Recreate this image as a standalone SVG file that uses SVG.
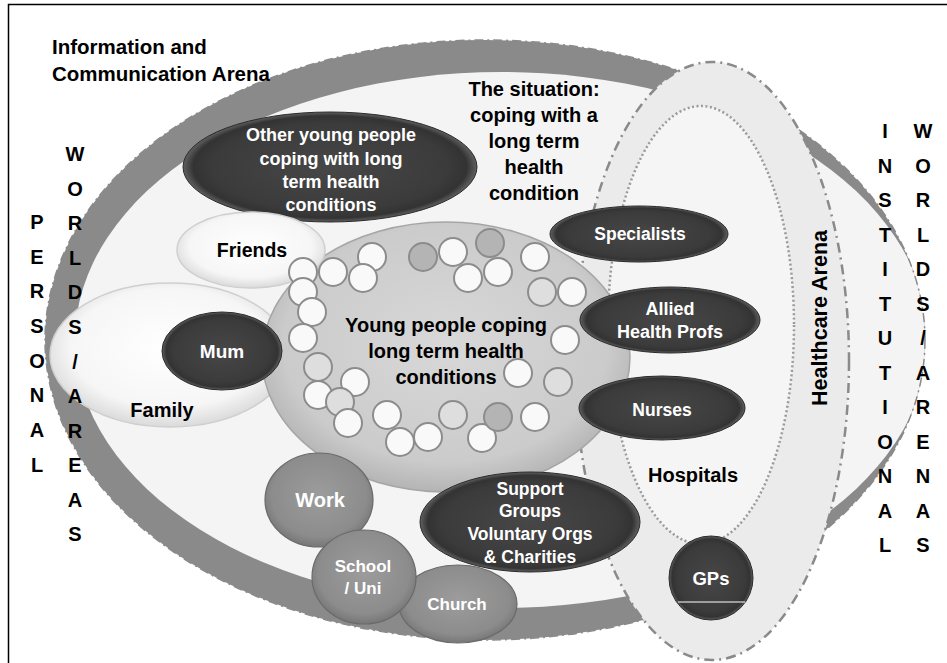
<svg xmlns="http://www.w3.org/2000/svg" width="947" height="663" viewBox="0 0 947 663">
<defs>
<style>
.t{font-family:"Liberation Sans",Arial,sans-serif;font-weight:bold;fill:#000;text-anchor:middle}
.w{font-family:"Liberation Sans",Arial,sans-serif;font-weight:bold;fill:#fff;text-anchor:middle}
.dark{fill:url(#gDark);stroke:#2a2a2a;stroke-width:1}
.mid{fill:url(#gMid);stroke:#6a6a6a;stroke-width:1.2}
.lite{fill:url(#gLite);stroke:#cfcfcf;stroke-width:1.5}
.c{fill:#f9f9f9;stroke:#8c8c8c;stroke-width:2}
.cg{fill:#b4b4b4;stroke:#8c8c8c;stroke-width:2}
.cl{fill:#dedede;stroke:#8c8c8c;stroke-width:2}
</style>
<radialGradient id="gDark" cx="50%" cy="50%" r="50%">
<stop offset="0" stop-color="#474747"/>
<stop offset="0.8" stop-color="#3b3b3b"/>
<stop offset="0.93" stop-color="#333"/>
<stop offset="1" stop-color="#606060"/>
</radialGradient>
<radialGradient id="gMid" cx="50%" cy="45%" r="55%">
<stop offset="0" stop-color="#9c9c9c"/>
<stop offset="0.8" stop-color="#8c8c8c"/>
<stop offset="1" stop-color="#777"/>
</radialGradient>
<radialGradient id="gLite" cx="50%" cy="45%" r="55%">
<stop offset="0" stop-color="#fff"/>
<stop offset="0.75" stop-color="#f6f6f6"/>
<stop offset="1" stop-color="#dadada"/>
</radialGradient>
<radialGradient id="gCenter" cx="50%" cy="45%" r="55%">
<stop offset="0" stop-color="#d8d8d8"/>
<stop offset="0.8" stop-color="#cbcbcb"/>
<stop offset="1" stop-color="#b4b4b4"/>
</radialGradient>
<clipPath id="outerClip"><ellipse cx="485" cy="340" rx="440" ry="300"/></clipPath>
</defs>

<rect x="8.5" y="4.5" width="945" height="670" fill="#fff" stroke="#000" stroke-width="1.5"/>

<g id="information-arena">
<ellipse cx="485" cy="340" rx="440" ry="300" fill="#8a8a8a"/>
<ellipse cx="501.5" cy="340" rx="426.5" ry="268" fill="#f4f4f4" clip-path="url(#outerClip)"/>
<ellipse cx="485" cy="340" rx="440" ry="300" fill="none" stroke="#8a8a8a" stroke-width="1.5" stroke-dasharray="9 4 2 4"/>
<text class="t" style="text-anchor:start" font-size="20.5" x="52" y="54">Information and</text>
<text class="t" style="text-anchor:start" font-size="20.5" x="52" y="81">Communication Arena</text>
</g>

<g id="healthcare-arena">
<ellipse cx="712" cy="361" rx="137" ry="299" fill="#ebebeb" stroke="#8a8a8a" stroke-width="2.5" stroke-dasharray="10 5 2 5"/>
</g>

<g id="hospitals">
<ellipse cx="701" cy="325" rx="93" ry="219" fill="#f5f5f5" stroke="#9a9a9a" stroke-width="2.5" stroke-dasharray="2 2.5"/>
<text class="t" font-size="20" x="693" y="482">Hospitals</text>
</g>

<g id="situation-label">
<text class="t" font-size="20" x="534" y="96">The situation:</text>
<text class="t" font-size="20" x="534" y="122">coping with a</text>
<text class="t" font-size="20" x="534" y="148">long term</text>
<text class="t" font-size="20" x="534" y="174">health</text>
<text class="t" font-size="20" x="534" y="200">condition</text>
</g>

<g id="family">
<ellipse class="lite" cx="170" cy="355" rx="120" ry="72"/>
<text class="t" font-size="20" x="162" y="417">Family</text>
</g>

<g id="other-young-people">
<ellipse class="dark" cx="330" cy="167" rx="147" ry="55"/>
<text class="w" font-size="18" x="331" y="141">Other young people</text>
<text class="w" font-size="18" x="331" y="165">coping with long</text>
<text class="w" font-size="18" x="331" y="188">term health</text>
<text class="w" font-size="18" x="331" y="211">conditions</text>
</g>

<g id="young-people">
<ellipse cx="446" cy="357" rx="184" ry="135" fill="url(#gCenter)" stroke="#a5a5a5" stroke-width="1.5"/>
<text class="t" font-size="20" x="446" y="332">Young people coping</text>
<text class="t" font-size="20" x="446" y="358">long term health</text>
<text class="t" font-size="20" x="446" y="384">conditions</text>
</g>

<g id="friends">
<ellipse class="lite" cx="251" cy="250" rx="74" ry="38"/>
<text class="t" font-size="19.5" x="252" y="257">Friends</text>
</g>

<g id="people-circles">
<circle class="c" cx="303" cy="272" r="14"/>
<circle class="c" cx="333" cy="272" r="14"/>
<circle class="c" cx="372" cy="257" r="14"/>
<circle class="c" cx="363" cy="278" r="14"/>
<circle class="cg" cx="423" cy="257" r="14"/>
<circle class="c" cx="453" cy="252" r="14"/>
<circle class="cg" cx="490" cy="243" r="14"/>
<circle class="c" cx="468" cy="278" r="14"/>
<circle class="c" cx="498" cy="272" r="14"/>
<circle class="c" cx="535" cy="257" r="14"/>
<circle class="cl" cx="542" cy="292" r="14"/>
<circle class="c" cx="572" cy="292" r="14"/>
<circle class="c" cx="303" cy="292" r="14"/>
<circle class="c" cx="312" cy="312" r="14"/>
<circle class="c" cx="303" cy="338" r="14"/>
<circle class="cl" cx="318" cy="367" r="14"/>
<circle class="c" cx="355" cy="382" r="14"/>
<circle class="c" cx="318" cy="395" r="14"/>
<circle class="cl" cx="340" cy="402" r="14"/>
<circle class="c" cx="348" cy="423" r="14"/>
<circle class="c" cx="387" cy="415" r="14"/>
<circle class="c" cx="400" cy="442" r="14"/>
<circle class="c" cx="428" cy="437" r="14"/>
<circle class="cl" cx="453" cy="415" r="14"/>
<circle class="c" cx="482" cy="438" r="14"/>
<circle class="cg" cx="498" cy="417" r="14"/>
<circle class="c" cx="535" cy="417" r="14"/>
<circle class="c" cx="518" cy="373" r="14"/>
<circle class="cl" cx="558" cy="382" r="14"/>
<circle class="c" cx="565" cy="340" r="14"/>
</g>

<g id="mum">
<ellipse class="dark" cx="222" cy="351" rx="60" ry="39"/>
<text class="w" font-size="19" x="222" y="358">Mum</text>
</g>

<g id="specialists">
<ellipse class="dark" cx="639" cy="234" rx="89" ry="28"/>
<text class="w" font-size="17.5" x="640" y="240">Specialists</text>
</g>

<g id="allied-health-profs">
<ellipse class="dark" cx="670" cy="320" rx="90" ry="33"/>
<text class="w" font-size="18" x="670" y="315">Allied</text>
<text class="w" font-size="18" x="670" y="338">Health Profs</text>
</g>

<g id="nurses">
<ellipse class="dark" cx="662" cy="408" rx="83" ry="32"/>
<text class="w" font-size="17.5" x="662" y="416">Nurses</text>
</g>

<g id="work">
<ellipse class="mid" cx="319" cy="500" rx="54" ry="47"/>
<text class="w" font-size="20" x="320" y="507">Work</text>
</g>

<g id="church">
<ellipse class="mid" cx="458" cy="604" rx="59" ry="39"/>
<text class="w" font-size="17" x="457" y="610">Church</text>
</g>

<g id="school-uni">
<ellipse class="mid" cx="364" cy="577" rx="52" ry="47"/>
<text class="w" font-size="17" x="363" y="572">School</text>
<text class="w" font-size="17" x="363" y="594">/ Uni</text>
</g>

<g id="support-groups">
<ellipse class="dark" cx="530" cy="522" rx="110" ry="50"/>
<text class="w" font-size="17.5" x="530" y="495">Support</text>
<text class="w" font-size="17.5" x="530" y="517">Groups</text>
<text class="w" font-size="17.5" x="530" y="540">Voluntary Orgs</text>
<text class="w" font-size="17.5" x="530" y="563">&amp; Charities</text>
</g>

<g id="gps">
<circle class="dark" cx="711" cy="578" r="42"/>
<line x1="678" y1="602" x2="745" y2="602" stroke="#fff" stroke-width="1.2"/>
<text class="w" font-size="18.5" x="711" y="585">GPs</text>
</g>

<g id="healthcare-label">
<text class="t" font-size="21.5" transform="translate(827 318) rotate(-90)" x="0" y="0">Healthcare Arena</text>
</g>

<g id="personal-worlds" class="t" font-size="20">
<text x="37" y="229">P</text>
<text x="37" y="264">E</text>
<text x="37" y="298">R</text>
<text x="37" y="333">S</text>
<text x="37" y="368">O</text>
<text x="37" y="402">N</text>
<text x="37" y="437">A</text>
<text x="37" y="472">L</text>
<text x="75" y="161">W</text>
<text x="75" y="196">O</text>
<text x="75" y="230">R</text>
<text x="75" y="265">L</text>
<text x="75" y="299">D</text>
<text x="75" y="334">S</text>
<text x="75" y="369">/</text>
<text x="75" y="403">A</text>
<text x="75" y="438">R</text>
<text x="75" y="472">E</text>
<text x="75" y="507">A</text>
<text x="75" y="541">S</text>
</g>

<g id="institutional-worlds" class="t" font-size="20">
<text x="885" y="138">I</text>
<text x="885" y="173">N</text>
<text x="885" y="207">S</text>
<text x="885" y="242">T</text>
<text x="885" y="276">I</text>
<text x="885" y="311">T</text>
<text x="885" y="345">U</text>
<text x="885" y="380">T</text>
<text x="885" y="414">I</text>
<text x="885" y="449">O</text>
<text x="885" y="483">N</text>
<text x="885" y="518">A</text>
<text x="885" y="552">L</text>
<text x="923" y="138">W</text>
<text x="923" y="173">O</text>
<text x="923" y="207">R</text>
<text x="923" y="242">L</text>
<text x="923" y="276">D</text>
<text x="923" y="311">S</text>
<text x="923" y="345">/</text>
<text x="923" y="380">A</text>
<text x="923" y="414">R</text>
<text x="923" y="449">E</text>
<text x="923" y="483">N</text>
<text x="923" y="518">A</text>
<text x="923" y="552">S</text>
</g>
</svg>
